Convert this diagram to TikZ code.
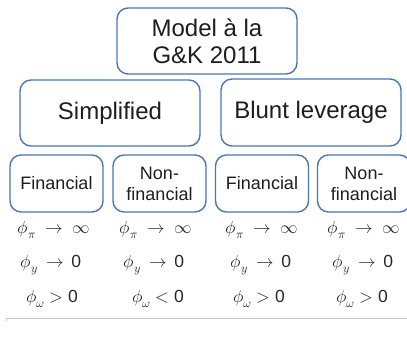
\documentclass[tikz,border=0pt]{standalone}
\usepackage{fontspec}
\setmainfont{Liberation Sans}
\usepackage{unicode-math}
\setmathfont{Latin Modern Math}
\begin{document}
\begin{tikzpicture}[x=1pt,y=-1pt,
  box/.style={draw=boxblue, line width=1.4pt, rounded corners=11pt,
    align=center, inner sep=0pt, text=textdark},
  bigbox/.style={box, minimum width=180pt, font=\fontsize{24}{27}\selectfont},
  smallbox/.style={box, minimum width=93pt, minimum height=57pt,
    font=\fontsize{18}{21}\selectfont},
  cond/.style={inner sep=0pt, text=mathgray, font=\fontsize{17.5}{20}\selectfont}]
\definecolor{boxblue}{RGB}{74,117,186}
\definecolor{textdark}{RGB}{30,30,30}
\definecolor{mathgray}{RGB}{40,40,40}
\definecolor{rulegray}{RGB}{200,200,200}
\useasboundingbox (0,0) rectangle (407,338);
\fill[white] (0,0) rectangle (407,338);

% top level
\node[bigbox, minimum height=66pt] (model) at (207,41) {Model à la\\G\&K 2011};

% second level
\node[bigbox, minimum height=66pt] (simp) at (110,113) {Simplified};
\node[bigbox, minimum height=67pt] (blunt) at (311,112.5) {Blunt leverage};

% third level
\node[smallbox] (fin1) at (56.5,183.5) {Financial};
\node[smallbox] (non1) at (159.5,183.5) {Non-\\financial};
\node[smallbox] (fin2) at (262,183.5) {Financial};
\node[smallbox] (non2) at (364,183.5) {Non-\\financial};

% policy conditions
\node[cond] (a1) at (54,230) {$\phi_\pi \;\to\; \infty$};
\node[cond] (a2) at (156,230) {$\phi_\pi \;\to\; \infty$};
\node[cond] (a3) at (262,230) {$\phi_\pi \;\to\; \infty$};
\node[cond] (a4) at (364,230) {$\phi_\pi \;\to\; \infty$};

\node[cond] (b1) at (51,265) {$\phi_y \,\to\, \mathrm{0}$};
\node[cond] (b2) at (154,265) {$\phi_y \,\to\, \mathrm{0}$};
\node[cond] (b3) at (261,265) {$\phi_y \,\to\, \mathrm{0}$};
\node[cond] (b4) at (363,265) {$\phi_y \,\to\, \mathrm{0}$};

\node[cond] (c1) at (52,299) {$\phi_\omega > \mathrm{0}$};
\node[cond] (c2) at (158,299) {$\phi_\omega < \mathrm{0}$};
\node[cond] (c3) at (259,299) {$\phi_\omega > \mathrm{0}$};
\node[cond] (c4) at (362,299) {$\phi_\omega > \mathrm{0}$};

% baseline rule
\coordinate (ruleL) at (6.5,321);
\coordinate (ruleC) at (6.5,318);
\coordinate (ruleR) at (407,318);
\draw[rulegray, line width=0.8pt] (ruleL) -- (ruleC) -- (ruleR);
\end{tikzpicture}
\end{document}
